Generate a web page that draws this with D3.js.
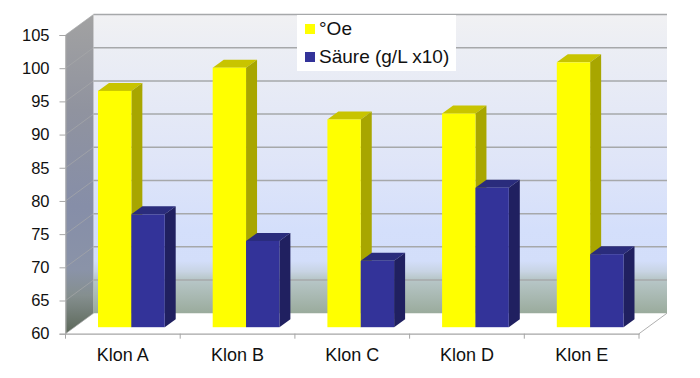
<!DOCTYPE html>
<html>
<head>
<meta charset="utf-8">
<script src="https://cdnjs.cloudflare.com/ajax/libs/d3/7.8.5/d3.min.js"></script>
<style>
body{margin:0;background:#fff;}
svg{display:block;}
text{font-family:"Liberation Sans",Arial,sans-serif;fill:#111;}
</style>
</head>
<body>
<div id="chart"></div>
<script>
var categories = ["Klon A","Klon B","Klon C","Klon D","Klon E"];
var seriesNames = ["°Oe","Säure (g/L x10)"];
var oe = [95.6,99.1,91.3,92.2,99.9];
var saeure = [77,73,70,81,71];
var yTicks = [60,65,70,75,80,85,90,95,100,105];

var width = 700, height = 378;
var svg = d3.select("#chart").append("svg").attr("width",width).attr("height",height);

var x = d3.scaleBand().domain(categories).range([65.5,639]);
var y = d3.scaleLinear().domain([60,105]).range([333.7,35]);

//depth of the 3d box and of the bars, in px
var dx = 28, dy = -20.5;
var barDx = 11, barDy = -8;
var barInset = 8.5, barUp = 6.5; //bars stand a little way in on the floor
var barPad = 24;

var sub = d3.scaleBand().domain([0,1]).range([0,(x.bandwidth()-2*barPad)]);

var defs = svg.append("defs");
function gradient(id, stops){
	var g = defs.append("linearGradient").attr("id",id).attr("x1",0).attr("y1",0).attr("x2",0).attr("y2",1);
	stops.forEach(function(s){g.append("stop").attr("offset",s[0]).attr("stop-color",s[1]);});
}
gradient("backwall",[[0,"#f1f1f3"],[0.1,"#eceef4"],[0.5,"#dfe5f8"],[0.72,"#d4dffb"],[0.825,"#d3defa"],[0.86,"#c8d4e4"],[0.885,"#b8c7c9"],[1,"#9aab9c"]]);
gradient("leftwall",[[0,"#a2a2a2"],[0.3,"#90939f"],[0.6,"#868ea8"],[0.8,"#8a93a8"],[0.88,"#858f8f"],[1,"#5b6758"]]);

function pts(a){return a.map(function(p){return p.join(",")}).join(" ");}

var x0 = x.range()[0], x1 = x.range()[1];
var box = svg.append("g");

box.append("polygon")
	.attr("points",pts([[x0+dx,y(105)+dy],[x1+dx,y(105)+dy],[x1+dx,y(60)+dy],[x0+dx,y(60)+dy]]))
	.attr("fill","url(#backwall)");
box.append("polygon")
	.attr("points",pts([[x0,y(105)],[x0+dx,y(105)+dy],[x0+dx,y(60)+dy],[x0,y(60)]]))
	.attr("fill","url(#leftwall)");

//grid on both walls
box.selectAll("line.back").data(yTicks.slice(1)).enter().append("line").classed("back",true)
	.attr("x1",x0+dx).attr("x2",x1+dx)
	.attr("y1",function(d){return y(d)+dy}).attr("y2",function(d){return y(d)+dy})
	.attr("stroke","#a6a8aa").attr("stroke-width",1.5);
box.selectAll("line.side").data(yTicks).enter().append("line").classed("side",true)
	.attr("x1",x0).attr("x2",x0+dx)
	.attr("y1",function(d){return y(d)}).attr("y2",function(d){return y(d)+dy})
	.attr("stroke","#a6a8aa").attr("stroke-width",1).attr("stroke-opacity",0.7);

//floor edge on the right
box.append("line").attr("x1",x1).attr("y1",y(60)).attr("x2",x1+dx).attr("y2",y(60)+dy)
	.attr("stroke","#b0b0b0").attr("stroke-width",1);

var colors = [
	{front:"#ffff00",top:"#c8c400",side:"#a8a600"},
	{front:"#333399",top:"#2a2c7c",side:"#202060"}
];

function drawBar(g, cat, i, value){
	var c = colors[i];
	var l = x(cat)+barPad+sub(i)+barInset;
	var r = l+sub.bandwidth();
	var t = y(value)-barUp;
	var b = y(60)-barUp;
	g.append("polygon").attr("points",pts([[l,t],[l+barDx,t+barDy],[r+barDx,t+barDy],[r,t]])).attr("fill",c.top);
	g.append("polygon").attr("points",pts([[r,t],[r+barDx,t+barDy],[r+barDx,b+barDy],[r,b]])).attr("fill",c.side);
	g.append("rect").attr("x",l).attr("y",t).attr("width",r-l).attr("height",b-t).attr("fill",c.front);
}

var bars = svg.append("g");
categories.forEach(function(cat,k){
	drawBar(bars,cat,0,oe[k]);
	drawBar(bars,cat,1,saeure[k]);
});

//axes
var yAxis = d3.axisLeft(y).tickValues(yTicks).tickSize(6).tickPadding(10);
var ga = svg.append("g").attr("transform","translate("+x0+",0)").call(yAxis);
ga.select(".domain").attr("stroke","#a6a6a6");
ga.selectAll(".tick line").attr("stroke","#a6a6a6");
ga.selectAll("text").attr("font-size",16.5).attr("font-family","Liberation Sans").attr("fill","#111");

var xAxis = d3.axisBottom(x).tickSize(0).tickPadding(15);
var gb = svg.append("g").attr("transform","translate(0,"+y(60)+")").call(xAxis);
gb.select(".domain").attr("stroke","#a6a6a6").attr("stroke-width",1.2);
gb.selectAll("text").attr("font-size",18).attr("font-family","Liberation Sans").attr("fill","#111");
gb.selectAll("line.edge").data(d3.range(categories.length+1)).enter().append("line").classed("edge",true)
	.attr("x1",function(d){return x0+d*x.step()}).attr("x2",function(d){return x0+d*x.step()})
	.attr("y1",0).attr("y2",5).attr("stroke","#a6a6a6");

//legend
var legend = svg.append("g").attr("transform","translate(297,15)");
legend.append("rect").attr("width",159).attr("height",56).attr("fill","#fff");
var li = legend.selectAll("g").data(seriesNames).enter().append("g")
	.attr("transform",function(d,i){return "translate(8,"+(i*28+9)+")"});
li.append("rect").attr("width",10).attr("height",10)
	.attr("fill",function(d,i){return colors[i].front});
li.append("text").attr("x",14).attr("y",11).attr("font-size",19).text(function(d){return d});
</script>
</body>
</html>
